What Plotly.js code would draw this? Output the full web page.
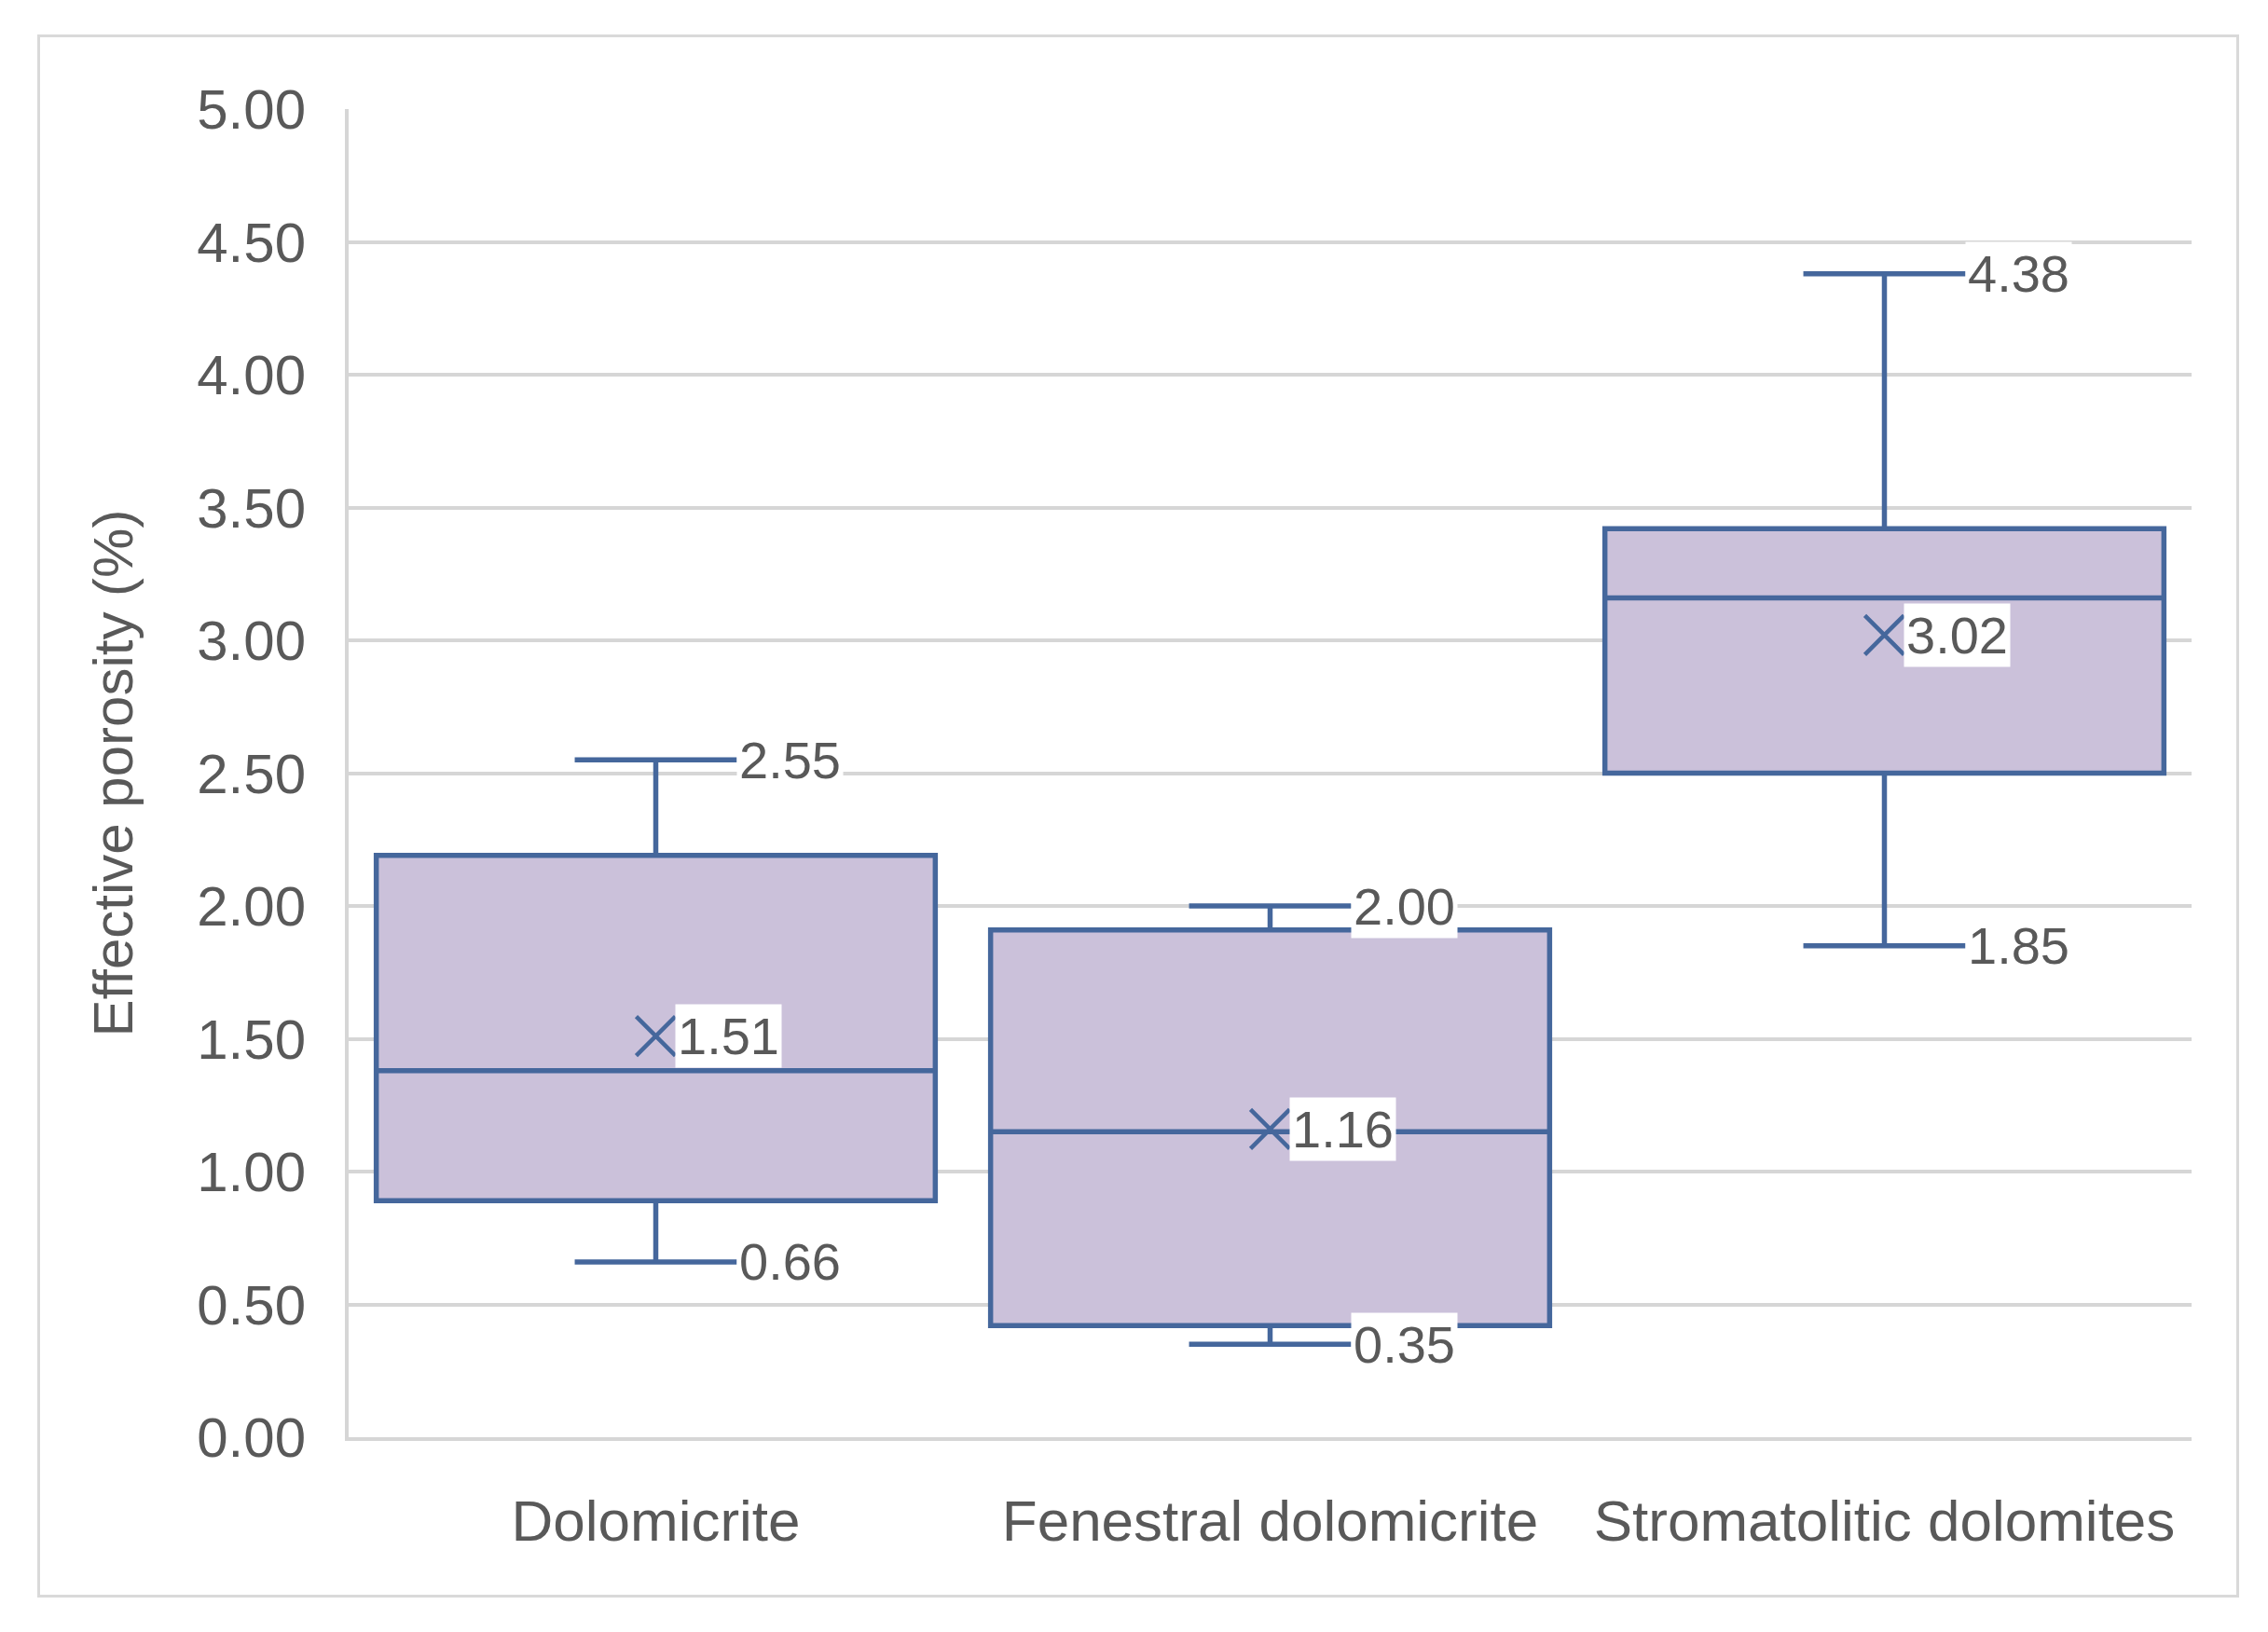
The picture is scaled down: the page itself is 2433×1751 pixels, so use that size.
<!DOCTYPE html>
<html>
<head>
<meta charset="utf-8">
<script src="https://cdn.plot.ly/plotly-3.0.1.min.js"></script>
<style>
  html, body { margin: 0; padding: 0; background: #ffffff; }
  #wrap { position: relative; width: 2433px; height: 1751px; }
  #chart { position: absolute; left: 0; top: 0; width: 2433px; height: 1751px; }
  #frame { position: absolute; left: 40px; top: 37px; width: 2356px; height: 1671px;
           border: 3px solid #d9d9d9; pointer-events: none; }
</style>
</head>
<body>
<div id="wrap">
  <div id="chart"></div>
  <div id="frame"></div>
</div>
<script>
// ---- data ----
const categories   = ["Dolomicrite", "Fenestral dolomicrite", "Stromatolitic dolomites"];
const lowerWhisker = [0.66, 0.35, 1.85];
const q1Values     = [0.89, 0.42, 2.50];
const medianValues = [1.38, 1.15, 3.16];
const q3Values     = [2.19, 1.91, 3.42];
const upperWhisker = [2.55, 2.00, 4.38];
const meanValues   = [1.51, 1.16, 3.02];
const yTickValues  = [0, 0.5, 1, 1.5, 2, 2.5, 3, 3.5, 4, 4.5, 5];

// ---- styles ----
const BLUE = "#45679c";
const FILL = "#cbc1da";
const GRID = "#d6d6d6";
const TEXT = "#595959";
const FONT = "'Liberation Sans', Arial, sans-serif";

const boxTrace = {
  type: "box",
  x: categories,
  q1: q1Values,
  median: medianValues,
  q3: q3Values,
  lowerfence: lowerWhisker,
  upperfence: upperWhisker,
  boxpoints: false,
  fillcolor: FILL,
  line: { color: BLUE, width: 5.5 },
  whiskerwidth: 0.29,
  hoverinfo: "skip",
  showlegend: false
};

const meanTrace = {
  type: "scatter",
  mode: "markers",
  x: categories,
  y: meanValues,
  marker: { symbol: "x-thin", size: 42, color: BLUE, line: { color: BLUE, width: 4.5 } },
  hoverinfo: "skip",
  showlegend: false
};

const labelFont = { family: FONT, size: 56, color: TEXT };
const annotations = [];
categories.forEach((c, i) => {
  [upperWhisker[i], lowerWhisker[i]].forEach(v => {
    annotations.push({
      x: c, y: v, xref: "x", yref: "y",
      text: v.toFixed(2), showarrow: false,
      xanchor: "left", yanchor: "middle", xshift: 86,
      bgcolor: "#ffffff", borderpad: 2, font: labelFont
    });
  });
  annotations.push({
    x: c, y: meanValues[i], xref: "x", yref: "y",
    text: meanValues[i].toFixed(2), showarrow: false,
    xanchor: "left", yanchor: "middle", xshift: 20,
    bgcolor: "#ffffff", borderpad: 2, font: labelFont
  });
});

const layout = {
  width: 2433, height: 1751,
  margin: { l: 374, r: 82, t: 117, b: 209, pad: 0 },
  paper_bgcolor: "#ffffff", plot_bgcolor: "#ffffff",
  boxgap: 0.09, boxgroupgap: 0,
  font: { family: FONT, color: TEXT },
  xaxis: {
    type: "category",
    range: [-0.5, 2.5],
    showgrid: false, zeroline: false,
    showline: true, linecolor: GRID, linewidth: 4,
    ticks: "", ticklabelstandoff: 33,
    tickfont: { family: FONT, size: 62, color: TEXT },
    fixedrange: true
  },
  yaxis: {
    range: [0, 5],
    tickvals: yTickValues,
    tickformat: ".2f",
    showgrid: true, gridcolor: GRID, gridwidth: 4,
    zeroline: false,
    showline: true, linecolor: GRID, linewidth: 4,
    ticks: "", ticklabelstandoff: 30,
    tickfont: { family: FONT, size: 60, color: TEXT },
    title: { text: "Effective porosity (%)", font: { family: FONT, size: 60, color: TEXT }, standoff: 50 },
    fixedrange: true
  },
  annotations: annotations
};

Plotly.newPlot("chart", [boxTrace, meanTrace], layout, { displayModeBar: false, staticPlot: true });
</script>
</body>
</html>
